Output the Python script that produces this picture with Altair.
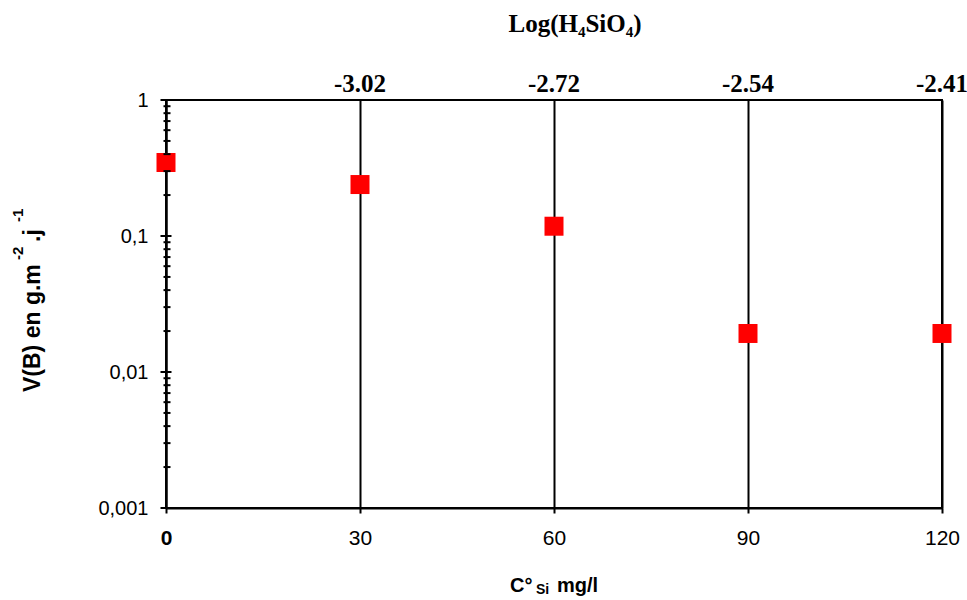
import altair as alt
import pandas as pd

# Silicon concentration (mg/l) and dissolution rate V(B) (g.m-2.j-1)
conc_si = [0, 30, 60, 90, 120]
rate_vb = [0.347, 0.239, 0.118, 0.0192, 0.0192]

# Secondary scale: log of H4SiO4 activity at each non-zero concentration
log_positions = [30, 60, 90, 120]
log_labels = ["-3.02", "-2.72", "-2.54", "-2.41"]

# Log-axis tick values
major_ticks = [0.001, 0.01, 0.1, 1]
minor_ticks = [m * d for d in [0.001, 0.01, 0.1] for m in range(2, 10)]

SANS = "Liberation Sans"
SERIF = "Liberation Serif"

points_df = pd.DataFrame({"conc": conc_si, "rate": rate_vb})
log_df = pd.DataFrame({"conc": log_positions, "label": log_labels})
major_df = pd.DataFrame({"v": major_ticks})
minor_df = pd.DataFrame({"v": minor_ticks})
one = pd.DataFrame({"k": [0]})

x_scale = alt.Scale(domain=[0, 120], nice=False, zero=False)
y_scale = alt.Scale(type="log", domain=[0.001, 1], nice=False)

points = alt.Chart(points_df).mark_square(
    size=361, color="#ff0000", opacity=1, filled=True
).encode(
    x=alt.X(
        "conc:Q",
        scale=x_scale,
        axis=alt.Axis(
            values=conc_si,
            title=None,
            grid=True,
            gridColor="black",
            gridWidth=2,
            gridOpacity=1,
            tickSize=5,
            tickWidth=2,
            tickColor="black",
            domainColor="black",
            domainWidth=2,
            labelFont=SANS,
            labelFontSize=21,
            labelFontWeight=alt.expr("datum.value == 0 ? 'bold' : 'normal'"),
            labelColor="black",
            labelPadding=14,
            labelFlush=False,
            format="d",
        ),
    ),
    y=alt.Y(
        "rate:Q",
        scale=y_scale,
        axis=alt.Axis(
            values=major_ticks,
            title=None,
            grid=False,
            ticks=False,
            domainColor="black",
            domainWidth=2,
            labelFont=SANS,
            labelFontSize=20,
            labelColor="black",
            labelPadding=18,
            labelFlush=False,
            labelExpr="replace(toString(datum.value), '.', ',')",
        ),
    ),
)

major_tick_marks = alt.Chart(major_df).mark_tick(
    orient="horizontal", size=11, thickness=2, color="black", opacity=1
).encode(y=alt.Y("v:Q", scale=y_scale), x=alt.value(0))

minor_tick_marks = alt.Chart(minor_df).mark_tick(
    orient="horizontal", size=7, thickness=2, color="black", opacity=1
).encode(y=alt.Y("v:Q", scale=y_scale), x=alt.value(1))

log_text = alt.Chart(log_df).mark_text(
    font=SERIF, fontSize=25, fontWeight="bold", color="black",
    baseline="alphabetic", align="center",
).encode(
    x=alt.X("conc:Q", scale=x_scale),
    y=alt.value(-8),
    text="label:N",
)

top_title = alt.Chart(one).mark_text(
    text="Log(H\u2084SiO\u2084)", font=SERIF, fontSize=25, fontWeight="bold",
    color="black", baseline="alphabetic", align="center",
).encode(x=alt.value(409), y=alt.value(-68))


def rotated_piece(text, size, x, y):
    """A piece of the vertical axis title, read bottom to top."""
    return alt.Chart(one).mark_text(
        text=text, font=SANS, fontSize=size, fontWeight="bold", color="black",
        angle=270, baseline="alphabetic", align="left",
    ).encode(x=alt.value(x), y=alt.value(y))


y_title = [
    rotated_piece("V(B) en g.m", 23, -126, 292),
    rotated_piece("-2", 15, -143, 160),
    rotated_piece(".j", 23, -126, 142),
    rotated_piece("-1", 15, -143, 122),
]

x_title_c = alt.Chart(one).mark_text(
    text="C\u00b0", font=SANS, fontSize=20, fontWeight="bold", color="black",
    baseline="alphabetic", align="left",
).encode(x=alt.value(344), y=alt.value(492))

x_title_si = alt.Chart(one).mark_text(
    text="Si", font=SANS, fontSize=14, fontWeight="bold", color="black",
    baseline="alphabetic", align="left",
).encode(x=alt.value(370), y=alt.value(494))

x_title_unit = alt.Chart(one).mark_text(
    text="mg/l", font=SANS, fontSize=20, fontWeight="bold", color="black",
    baseline="alphabetic", align="left",
).encode(x=alt.value(391), y=alt.value(492))

chart = alt.layer(
    points, major_tick_marks, minor_tick_marks, log_text,
    top_title, *y_title, x_title_c, x_title_si, x_title_unit,
).properties(
    width=776,
    height=408,
    autosize=alt.AutoSizeParams(type="none"),
    padding={"left": 166, "top": 100, "right": 25, "bottom": 92},
    background="white",
).configure_view(
    stroke="black", strokeWidth=2
)

chart.save("out.html", embed_options={"renderer": "svg", "actions": False})
